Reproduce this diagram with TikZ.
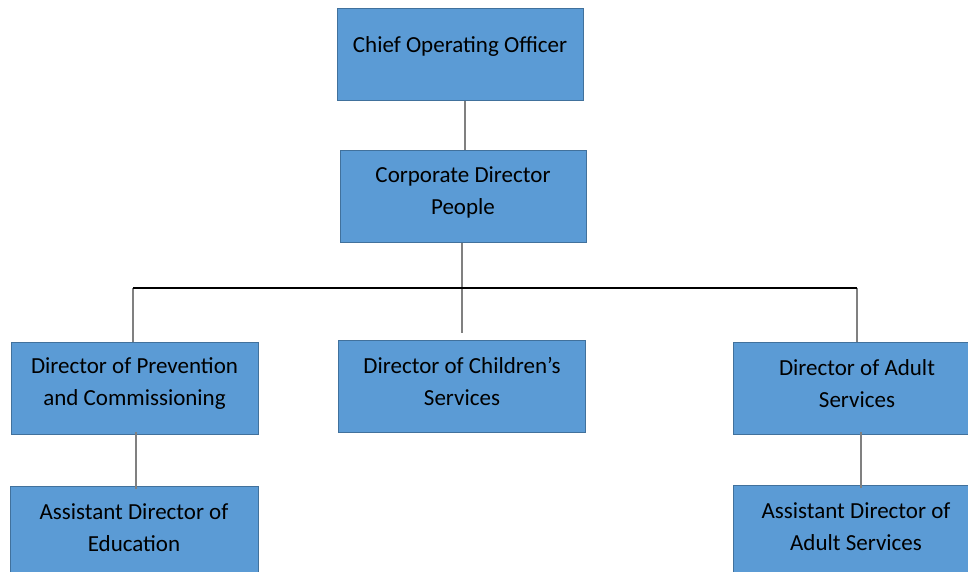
\documentclass[tikz,border=0pt]{standalone}
\usepackage{fontspec}
\setmainfont{Carlito}
\definecolor{boxfill}{HTML}{5B9BD5}
\definecolor{boxline}{HTML}{41719C}
\definecolor{connc}{HTML}{808080}
\begin{document}
\begin{tikzpicture}[x=1pt,y=-1pt,
  box/.style={rectangle,draw=boxline,fill=boxfill,line width=1.2pt,anchor=north west,inner sep=0pt},
  txt/.style={align=center,inner sep=0pt,font=\fontsize{23}{32}\selectfont,text=black},
  conn/.style={draw=connc,line width=1.8pt},
  bus/.style={draw=black,line width=2.4pt}]
\useasboundingbox (0,0) rectangle (968,572);
% boxes
\node[box,minimum width=246pt,minimum height=92pt] (coo) at (337,8) {};
\node[box,minimum width=246pt,minimum height=92pt] (cdp) at (340,150) {};
\node[box,minimum width=247pt,minimum height=92pt] (prev) at (11,342) {};
\node[box,minimum width=247pt,minimum height=92pt] (ch) at (338,340) {};
\node[box,minimum width=270pt,minimum height=92pt] (ad) at (733,342) {};
\node[box,minimum width=248pt,minimum height=100pt] (ae) at (10,486) {};
\node[box,minimum width=270pt,minimum height=100pt] (aa) at (733,485) {};
% texts
\node[txt] (coot) at (460,46) {Chief Operating Officer};
\node[txt] (cdpt) at (463,192) {Corporate Director\\People};
\node[txt] (prevt) at (134.5,383.5) {Director of Prevention\\and Commissioning};
\node[txt] (cht) at (462,381.5) {Director of Children’s\\Services};
\node[txt] (adt) at (857,383.5) {Director of Adult\\Services};
\node[txt] (aet) at (134,527.5) {Assistant Director of\\Education};
\node[txt] (aat) at (856,526.5) {Assistant Director of\\Adult Services};
% connector points
\coordinate (bl) at (133,288);
\coordinate (br) at (857,288);
\coordinate (cend) at (462,333);
% connectors
\draw[conn] (coo.south -| 465,0) -- (cdp.north -| 465,0);
\draw[conn] (cdp.south -| cend) -- (cend);
\draw[conn] (bl) -- (bl |- prev.north);
\draw[conn] (br) -- (br |- ad.north);
\draw[conn] ([yshift=3pt]prev.south -| 136,0) -- ([yshift=-3pt]ae.north -| 136,0);
\draw[conn] ([yshift=3pt]ad.south -| 861,0) -- ([yshift=-3pt]aa.north -| 861,0);
\draw[bus] (bl) -- (br);
\end{tikzpicture}
\end{document}
